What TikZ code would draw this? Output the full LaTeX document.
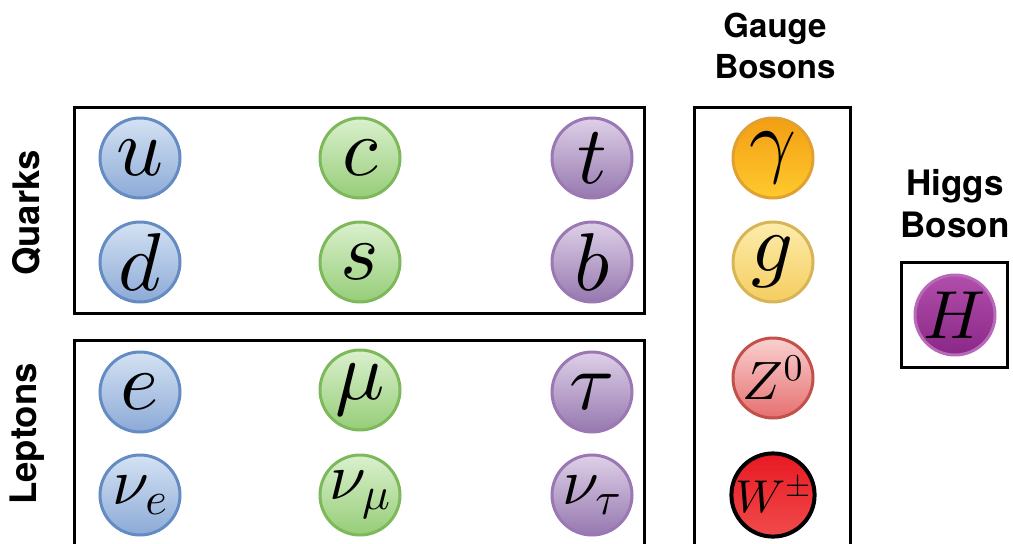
\documentclass[tikz,border=0pt]{standalone}
\usepackage{fontspec}
\newfontfamily\lblfont{TeX Gyre Heros}
\DeclareFontShape{OML}{cmm}{m}{it}{<-> cmmi10}{}
\DeclareFontShape{OMS}{cmsy}{m}{n}{<-> cmsy10}{}
\DeclareFontShape{OT1}{cmr}{m}{n}{<-> cmr10}{}
\definecolor{blueTop}{RGB}{212,226,243}
\definecolor{blueBot}{RGB}{140,170,215}
\definecolor{blueLine}{RGB}{100,140,195}
\definecolor{greenTop}{RGB}{218,240,205}
\definecolor{greenBot}{RGB}{150,205,120}
\definecolor{greenLine}{RGB}{125,185,90}
\definecolor{purpTop}{RGB}{222,208,232}
\definecolor{purpBot}{RGB}{150,120,175}
\definecolor{purpLine}{RGB}{155,120,180}
\definecolor{gamTop}{RGB}{243,158,20}
\definecolor{gamBot}{RGB}{255,202,45}
\definecolor{gamLine}{RGB}{225,160,50}
\definecolor{gTop}{RGB}{252,236,172}
\definecolor{gBot}{RGB}{245,205,95}
\definecolor{gLine}{RGB}{215,180,85}
\definecolor{zTop}{RGB}{250,208,208}
\definecolor{zBot}{RGB}{230,112,112}
\definecolor{zLine}{RGB}{195,80,75}
\definecolor{wTop}{RGB}{232,25,35}
\definecolor{wBot}{RGB}{240,75,75}
\definecolor{hTop}{RGB}{178,78,172}
\definecolor{hBot}{RGB}{138,40,135}
\definecolor{hLine}{RGB}{185,105,185}
\tikzset{
  particle/.style={circle, minimum size=80pt, inner sep=0pt, line width=3pt, text=black},
  pblue/.style={particle, draw=blueLine, top color=blueTop, bottom color=blueBot},
  pgreen/.style={particle, draw=greenLine, top color=greenTop, bottom color=greenBot},
  ppurp/.style={particle, draw=purpLine, top color=purpTop, bottom color=purpBot},
  big/.style={font=\fontsize{82}{82}\selectfont},
  nu/.style={font=\fontsize{66}{66}\selectfont},
  frame/.style={draw=black, line width=3pt},
  lbl/.style={font=\lblfont\bfseries\fontsize{33}{41}\selectfont, align=center, inner sep=0pt},
  sidelbl/.style={font=\lblfont\bfseries\fontsize{36.5}{41}\selectfont, inner sep=0pt, rotate=90}
}
\begin{document}
\begin{tikzpicture}[x=1pt,y=-1pt]
\useasboundingbox (0,0) rectangle (1013,544);
\clip (0,0) rectangle (1013,544);
% frames
\draw[frame] (74,107) rectangle (644,313);
\draw[frame] (74,580) -- (74,340) -- (644,340) -- (644,580);
\draw[frame] (694,580) -- (694,107) -- (850,107) -- (850,580);
\draw[frame] (901,262) rectangle (1007,367);
% labels
\node[sidelbl] (quarks) at (27,213) {Quarks};
\node[sidelbl] (leptons) at (27,434) {Leptons};
\node[lbl] (gauge) at (775,46) {Gauge\\Bosons};
\node[lbl, font=\lblfont\bfseries\fontsize{35}{42}\selectfont] (higgs) at (955,204) {Higgs\\Boson};
% quarks
\node[pblue, big] (u) at (140,158) {$u$};
\node[pgreen, big] (c) at (360,158) {$c$};
\node[ppurp, big] (t) at (592,158) {$t$};
\node[pblue, big] (d) at (140,262) {$d$};
\node[pgreen, big] (s) at (360,262) {$s$};
\node[ppurp, big] (b) at (592,262) {$b$};
% leptons
\node[pblue, big] (e) at (140,392) {$e$};
\node[pgreen, big] (mu) at (360,390) {$\mu$};
\node[ppurp, big] (tau) at (592,392) {$\tau$};
\node[pblue, nu] (nue) at (140,495) {$\nu_e$};
\node[pgreen, nu] (numu) at (360,495) {$\nu_\mu$};
\node[ppurp, nu] (nutau) at (592,495) {$\nu_\tau$};
% gauge bosons
\node[particle, draw=gamLine, top color=gamTop, bottom color=gamBot, big] (gamma) at (773,158) {$\gamma$};
\node[particle, draw=gLine, top color=gTop, bottom color=gBot, big] (g) at (773,262) {$g$};
\node[particle, draw=zLine, top color=zTop, bottom color=zBot, font=\fontsize{54}{54}\selectfont] (Z) at (773,378) {$Z^0$};
\node[particle, draw=black, line width=4pt, top color=wTop, bottom color=wBot, font=\fontsize{46}{46}\selectfont] (W) at (773,495) {$W^\pm$};
% higgs
\node[particle, draw=hLine, top color=hTop, bottom color=hBot, font=\fontsize{68}{68}\selectfont] (H) at (955,315) {$H$};
\end{tikzpicture}
\end{document}
